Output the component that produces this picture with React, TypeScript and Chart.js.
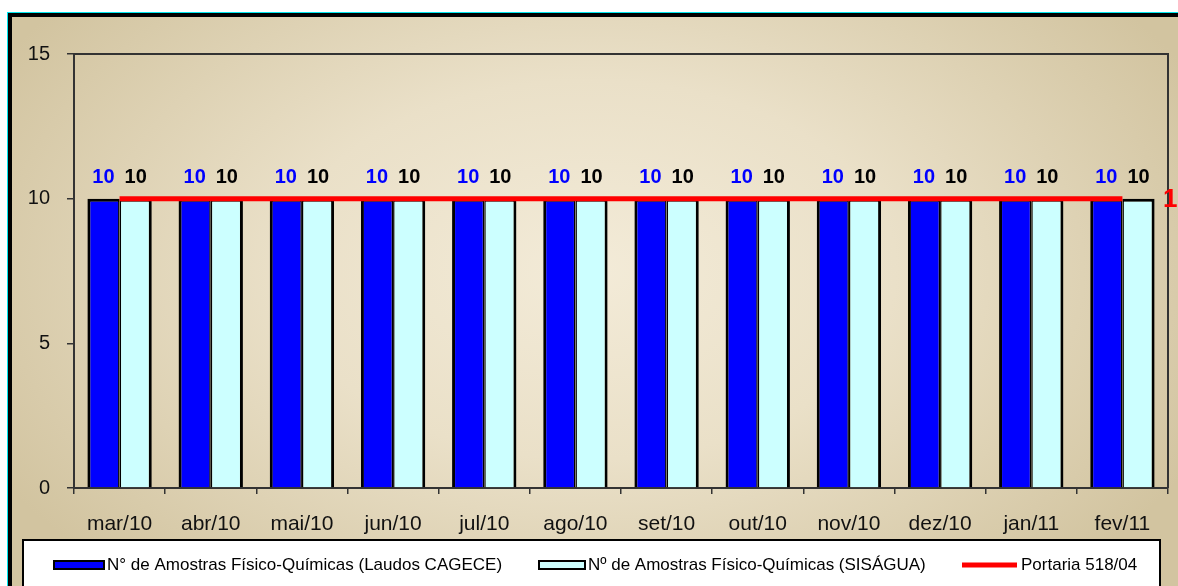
import React, { useEffect, useRef } from "react";
import { Chart, registerables } from "chart.js";

Chart.register(...registerables);

const categories = ["mar/10", "abr/10", "mai/10", "jun/10", "jul/10", "ago/10", "set/10", "out/10", "nov/10", "dez/10", "jan/11", "fev/11"];
const laudosCagece = [10, 10, 10, 10, 10, 10, 10, 10, 10, 10, 10, 10];
const sisagua = [10, 10, 10, 10, 10, 10, 10, 10, 10, 10, 10, 10];
const portaria = [10, 10, 10, 10, 10, 10, 10, 10, 10, 10, 10, 10];
const seriesLabels = [
  "N° de Amostras Físico-Químicas (Laudos CAGECE)",
  "Nº de Amostras Físico-Químicas (SISÁGUA)",
  "Portaria 518/04",
];
const yTicks = [0, 5, 10, 15];

const FONT = "'Liberation Sans', Arial, sans-serif";

const bgPlugin = {
  id: "bgFrame",
  beforeDraw(chart: any) {
    const ctx = chart.ctx;
    const W = chart.width;
    const H = chart.height;
    ctx.save();
    ctx.fillStyle = "#ffffff";
    ctx.fillRect(0, 0, W, H);
    ctx.fillStyle = "#00e8f0";
    ctx.fillRect(7, 12, W - 7, 1);
    ctx.fillRect(7, 12, 1, H - 12);
    ctx.fillStyle = "#000000";
    ctx.fillRect(8, 13, W - 8, H - 13);
    ctx.beginPath();
    ctx.rect(12, 17, W - 12, H - 17);
    ctx.clip();
    ctx.translate(590, 270);
    ctx.scale(1, 0.62);
    const g = ctx.createRadialGradient(0, 0, 0, 0, 0, 680);
    g.addColorStop(0, "#f3ebd8");
    g.addColorStop(0.45, "#eae0c8");
    g.addColorStop(1, "#d2c4a0");
    ctx.fillStyle = g;
    ctx.fillRect(-800, -1200, 1600, 2400);
    ctx.restore();
  },
};

const borderPlugin = {
  id: "plotBorder",
  beforeDatasetsDraw(chart: any) {
    const { ctx, chartArea } = chart;
    ctx.save();
    ctx.strokeStyle = "#333333";
    ctx.lineWidth = 2;
    ctx.beginPath();
    ctx.moveTo(chartArea.left, chartArea.top);
    ctx.lineTo(chartArea.right, chartArea.top);
    ctx.lineTo(chartArea.right, chartArea.bottom);
    ctx.stroke();
    ctx.restore();
  },
};

const labelPlugin = {
  id: "valueLabels",
  afterDatasetsDraw(chart: any) {
    const ctx = chart.ctx;
    ctx.save();
    ctx.textAlign = "center";
    ctx.textBaseline = "alphabetic";
    ctx.font = `bold 20px ${FONT}`;
    const m0 = chart.getDatasetMeta(0);
    ctx.fillStyle = "#0000ff";
    m0.data.forEach((el: any, i: number) => {
      ctx.fillText(String(laudosCagece[i]), el.x, el.y - 16);
    });
    const m1 = chart.getDatasetMeta(1);
    ctx.fillStyle = "#000000";
    m1.data.forEach((el: any, i: number) => {
      ctx.fillText(String(sisagua[i]), el.x, el.y - 16);
    });
    const m2 = chart.getDatasetMeta(2);
    const last = m2.data[m2.data.length - 1];
    ctx.fillStyle = "#ff0000";
    ctx.textAlign = "left";
    ctx.textBaseline = "middle";
    ctx.font = `bold 26px ${FONT}`;
    ctx.fillText(String(portaria[portaria.length - 1]), chart.chartArea.right - 5, last.y + 1);
    ctx.restore();
  },
};

const legendPlugin = {
  id: "customLegend",
  afterDraw(chart: any) {
    const ctx = chart.ctx;
    const ds = chart.data.datasets;
    ctx.save();
    ctx.fillStyle = "#ffffff";
    ctx.fillRect(23, 540, 1137, 60);
    ctx.strokeStyle = "#000000";
    ctx.lineWidth = 2;
    ctx.strokeRect(23, 540, 1137, 60);
    const cy = 565;
    ctx.font = `17px ${FONT}`;
    ctx.textBaseline = "middle";
    ctx.textAlign = "left";
    ctx.fillStyle = ds[0].backgroundColor;
    ctx.fillRect(54, cy - 4, 50, 8);
    ctx.lineWidth = 2;
    ctx.strokeRect(54, cy - 4, 50, 8);
    ctx.fillStyle = "#000";
    ctx.fillText(ds[0].label, 107, cy);
    ctx.fillStyle = ds[1].backgroundColor;
    ctx.fillRect(539, cy - 4, 46, 8);
    ctx.strokeRect(539, cy - 4, 46, 8);
    ctx.fillStyle = "#000";
    ctx.fillText(ds[1].label, 588, cy);
    ctx.strokeStyle = ds[2].borderColor;
    ctx.lineWidth = 5;
    ctx.beginPath();
    ctx.moveTo(962, cy);
    ctx.lineTo(1017, cy);
    ctx.stroke();
    ctx.fillStyle = "#000";
    ctx.fillText(ds[2].label, 1021, cy);
    ctx.restore();
  },
};

export default function App() {
  const ref = useRef<HTMLCanvasElement | null>(null);

  useEffect(() => {
    if (!ref.current) return;
    Chart.defaults.font.family = FONT;
    const chart = new Chart(ref.current, {
      type: "bar",
      data: {
        labels: categories,
        datasets: [
          {
            type: "bar",
            label: seriesLabels[0],
            data: laudosCagece,
            backgroundColor: "#0000ff",
            borderColor: "#000000",
            borderWidth: { top: 3, left: 3, right: 1.5, bottom: 0 },
            borderSkipped: false,
            barPercentage: 1,
            categoryPercentage: 0.706,
            order: 1,
          },
          {
            type: "bar",
            label: seriesLabels[1],
            data: sisagua,
            backgroundColor: "#ccffff",
            borderColor: "#000000",
            borderWidth: { top: 3, left: 1.5, right: 3, bottom: 0 },
            borderSkipped: false,
            barPercentage: 1,
            categoryPercentage: 0.706,
            order: 1,
          },
          {
            type: "line",
            label: seriesLabels[2],
            data: portaria,
            borderColor: "#ff0000",
            backgroundColor: "#ff0000",
            borderWidth: 5,
            pointRadius: 0,
            fill: false,
            order: 0,
          },
        ],
      } as any,
      options: {
        animation: false,
        responsive: false,
        devicePixelRatio: 1,
        layout: { padding: { top: 54, right: 10, bottom: 48, left: 0 } },
        plugins: { legend: { display: false }, tooltip: { enabled: false } },
        scales: {
          x: {
            offset: true,
            grid: { offset: true, drawOnChartArea: false, drawTicks: true, tickLength: 6, color: "#333333", lineWidth: 1.5 },
            border: { display: true, color: "#333333", width: 2 },
            ticks: { color: "#111111", font: { size: 21 }, padding: 18, maxRotation: 0, autoSkip: false },
            afterFit: (s: any) => {
              s.height = 50;
            },
          },
          y: {
            min: 0,
            max: 15,
            afterBuildTicks: (s: any) => {
              s.ticks = yTicks.map((v) => ({ value: v }));
            },
            grid: { drawOnChartArea: false, drawTicks: true, tickLength: 7, color: "#333333", lineWidth: 1.5 },
            border: { display: true, color: "#333333", width: 2 },
            ticks: { color: "#111111", font: { size: 20 }, padding: 17 },
            afterFit: (s: any) => {
              s.width = 74;
            },
          },
        },
      } as any,
      plugins: [bgPlugin, borderPlugin, labelPlugin, legendPlugin],
    });
    return () => chart.destroy();
  }, []);

  return (
    <div style={{ position: "absolute", left: 0, top: 0, width: 1178, height: 586 }}>
      <canvas ref={ref} width={1178} height={586} style={{ display: "block", width: 1178, height: 586 }} />
    </div>
  );
}
